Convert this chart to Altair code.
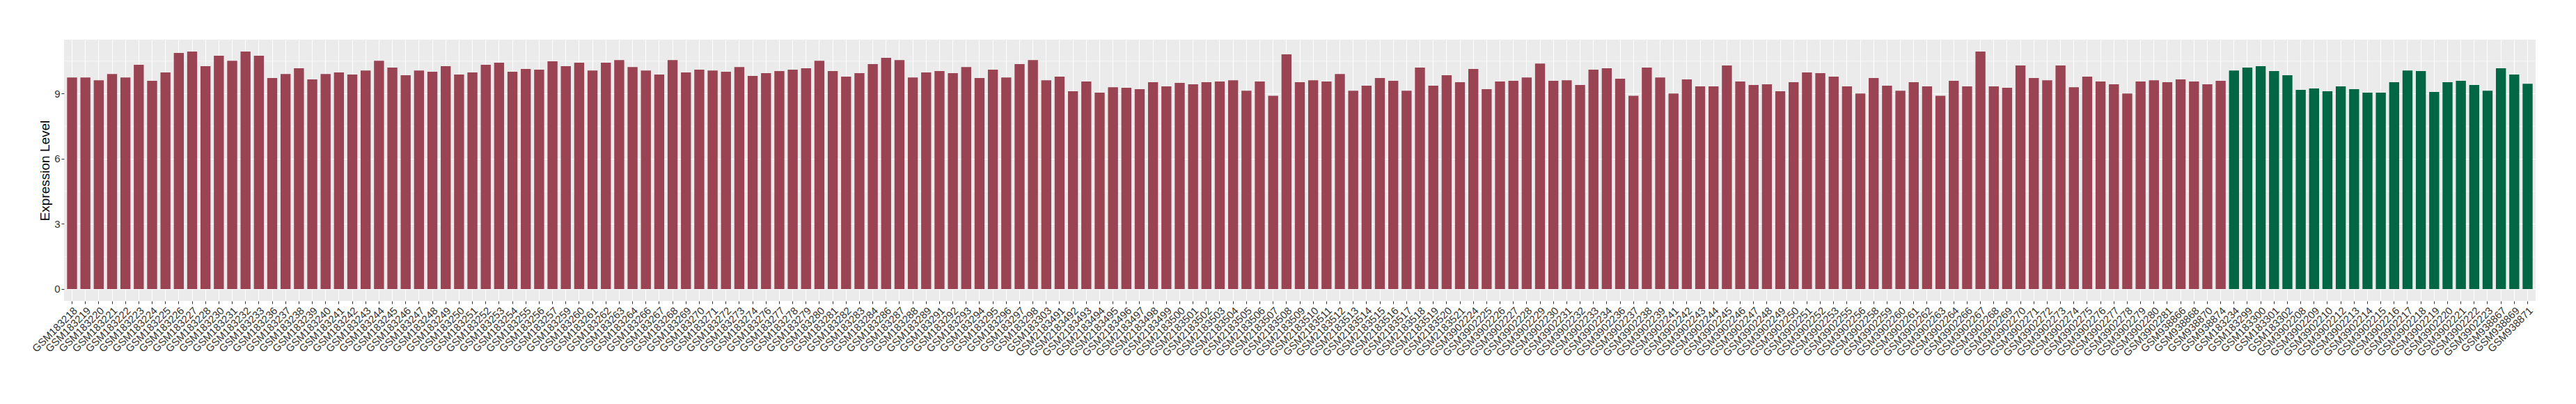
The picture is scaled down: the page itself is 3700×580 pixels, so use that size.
import altair as alt
import pandas as pd

samples = [
    "GSM183218", "GSM183219", "GSM183220", "GSM183221", "GSM183222", "GSM183223", "GSM183224", "GSM183225",
    "GSM183226", "GSM183227", "GSM183228", "GSM183230", "GSM183231", "GSM183232", "GSM183233", "GSM183236",
    "GSM183237", "GSM183238", "GSM183239", "GSM183240", "GSM183241", "GSM183242", "GSM183243", "GSM183244",
    "GSM183245", "GSM183246", "GSM183247", "GSM183248", "GSM183249", "GSM183250", "GSM183251", "GSM183252",
    "GSM183253", "GSM183254", "GSM183255", "GSM183256", "GSM183257", "GSM183259", "GSM183260", "GSM183261",
    "GSM183262", "GSM183263", "GSM183264", "GSM183266", "GSM183267", "GSM183268", "GSM183269", "GSM183270",
    "GSM183271", "GSM183272", "GSM183273", "GSM183274", "GSM183276", "GSM183277", "GSM183278", "GSM183279",
    "GSM183280", "GSM183281", "GSM183282", "GSM183283", "GSM183284", "GSM183286", "GSM183287", "GSM183288",
    "GSM183289", "GSM183291", "GSM183292", "GSM183293", "GSM183294", "GSM183295", "GSM183296", "GSM183297",
    "GSM183298", "GSM183303",
    "GSM2183491", "GSM2183492", "GSM2183493", "GSM2183494", "GSM2183495", "GSM2183496", "GSM2183497",
    "GSM2183498", "GSM2183499", "GSM2183500", "GSM2183501", "GSM2183502", "GSM2183503", "GSM2183504",
    "GSM2183505", "GSM2183506", "GSM2183507", "GSM2183508", "GSM2183509", "GSM2183510", "GSM2183511",
    "GSM2183512", "GSM2183513", "GSM2183514", "GSM2183515", "GSM2183516", "GSM2183517", "GSM2183518",
    "GSM2183519", "GSM2183520", "GSM2183521",
    "GSM3902224", "GSM3902225", "GSM3902226", "GSM3902227", "GSM3902228", "GSM3902229", "GSM3902230",
    "GSM3902231", "GSM3902232", "GSM3902233", "GSM3902234", "GSM3902236", "GSM3902237", "GSM3902238",
    "GSM3902239", "GSM3902241", "GSM3902242", "GSM3902243", "GSM3902244", "GSM3902245", "GSM3902246",
    "GSM3902247", "GSM3902248", "GSM3902249", "GSM3902250", "GSM3902251", "GSM3902252", "GSM3902253",
    "GSM3902255", "GSM3902256", "GSM3902258", "GSM3902259", "GSM3902260", "GSM3902261", "GSM3902262",
    "GSM3902263", "GSM3902264", "GSM3902266", "GSM3902267", "GSM3902268", "GSM3902269", "GSM3902270",
    "GSM3902271", "GSM3902272", "GSM3902273", "GSM3902274", "GSM3902275", "GSM3902276", "GSM3902277",
    "GSM3902278", "GSM3902279", "GSM3902280", "GSM3902281",
    "GSM938866", "GSM938868", "GSM938870", "GSM938874",
    "GSM183234", "GSM183299", "GSM183300", "GSM183301", "GSM183302",
    "GSM3902208", "GSM3902209", "GSM3902210", "GSM3902212", "GSM3902213", "GSM3902214", "GSM3902215",
    "GSM3902216", "GSM3902217", "GSM3902218", "GSM3902219", "GSM3902220", "GSM3902221", "GSM3902222",
    "GSM3902223", "GSM938867", "GSM938869", "GSM938871",
]

expression = [
    9.75, 9.75, 9.62, 9.91, 9.75, 10.33, 9.59, 9.98, 10.88, 10.94,
    10.27, 10.75, 10.52, 10.94, 10.75, 9.72, 9.91, 10.17, 9.66, 9.91,
    9.98, 9.88, 10.07, 10.52, 10.20, 9.85, 10.07, 10.01, 10.27, 9.88,
    9.98, 10.33, 10.43, 10.01, 10.14, 10.11, 10.49, 10.27, 10.43, 10.07,
    10.43, 10.55, 10.23, 10.07, 9.88, 10.55,
    9.98, 10.11, 10.07, 10.01, 10.23, 9.82, 9.95, 10.04, 10.11, 10.17,
    10.52, 10.04, 9.79, 9.95, 10.36, 10.65, 10.55, 9.75, 9.98, 10.04,
    9.95, 10.23, 9.72, 10.11, 9.75, 10.36, 10.55, 9.62, 9.79, 9.11,
    9.56, 9.05, 9.30, 9.27, 9.21, 9.53, 9.34, 9.50, 9.43, 9.53,
    9.56, 9.62, 9.14, 9.56, 8.90, 10.81,
    9.53, 9.62, 9.56, 9.91, 9.14, 9.37, 9.72, 9.59, 9.14, 10.20,
    9.37, 9.85, 9.53, 10.14, 9.21, 9.56, 9.59, 9.75, 10.39, 9.59,
    9.62, 9.40, 10.11, 10.17, 9.69, 8.90, 10.20, 9.75, 9.01, 9.66,
    9.34, 9.34, 10.30, 9.56, 9.40, 9.43, 9.11, 9.53, 9.98, 9.95,
    9.79, 9.34, 9.01, 9.72, 9.37, 9.14, 9.53,
    9.34, 8.90, 9.59, 9.34, 10.94, 9.34, 9.27, 10.30, 9.72, 9.62,
    10.30, 9.30, 9.79, 9.56, 9.43, 9.01, 9.56, 9.62, 9.53, 9.66,
    9.56, 9.43, 9.59,
    10.07, 10.20, 10.27, 10.04, 9.85, 9.18, 9.24, 9.11, 9.34, 9.21,
    9.05, 9.05, 9.53, 10.07, 10.04, 9.08, 9.53, 9.59, 9.40, 9.14,
    10.17, 9.88, 9.46,
]

groups = ["A"] * 162 + ["B"] * 23
group_names = ["A", "B"]
group_colors = ["#9A4352", "#006644"]

y_ticks = [0, 3, 6, 9]
y_minor = [1.5, 4.5, 7.5, 10.5]

df = pd.DataFrame({"sample": samples, "expr": expression, "group": groups})
minor_df = pd.DataFrame({"v": y_minor})

ymax = max(expression) * 1.05
ymin = -max(expression) * 0.05
yscale = alt.Scale(domain=[ymin, ymax], nice=False, zero=False)

minor = alt.Chart(minor_df).mark_rule(color="white", strokeWidth=0.6).encode(
    y=alt.Y("v:Q", scale=yscale)
)

bars = alt.Chart(df).mark_bar().encode(
    x=alt.X(
        "sample:N",
        sort=None,
        scale=alt.Scale(paddingInner=0.25, paddingOuter=0.225),
        axis=alt.Axis(
            title=None,
            labelAngle=315,
            labelAlign="right",
            labelBaseline="top",
            labelOverlap=False,
            labelPadding=2,
            labelFontSize=15,
            labelFont="Liberation Sans",
            labelColor="#333333",
            tickSize=4,
            tickColor="#333333",
            domain=False,
            grid=True,
            gridColor="white",
            gridWidth=1.1,
            bandPosition=0.5,
        ),
    ),
    y=alt.Y(
        "expr:Q",
        scale=yscale,
        axis=alt.Axis(
            title="Expression Level",
            values=y_ticks,
            titleFontSize=19,
            titleFont="Liberation Sans",
            titleFontWeight="normal",
            titleColor="black",
            titlePadding=3,
            labelFontSize=15,
            labelFont="Liberation Sans",
            labelColor="#333333",
            labelPadding=2,
            tickSize=4,
            tickColor="#333333",
            domain=False,
            grid=True,
            gridColor="white",
            gridWidth=1.1,
        ),
    ),
    color=alt.Color(
        "group:N",
        scale=alt.Scale(domain=group_names, range=group_colors),
        legend=None,
    ),
)

chart = (
    alt.layer(minor, bars)
    .properties(
        width=3550,
        height=375,
        autosize=alt.AutoSizeParams(type="none"),
        padding={"left": 84, "top": 49, "right": 30, "bottom": 120},
        background="white",
    )
    .configure_view(fill="#EBEBEB", strokeWidth=0)
)

chart.save("out.html", embed_options={"renderer": "svg", "actions": False})
